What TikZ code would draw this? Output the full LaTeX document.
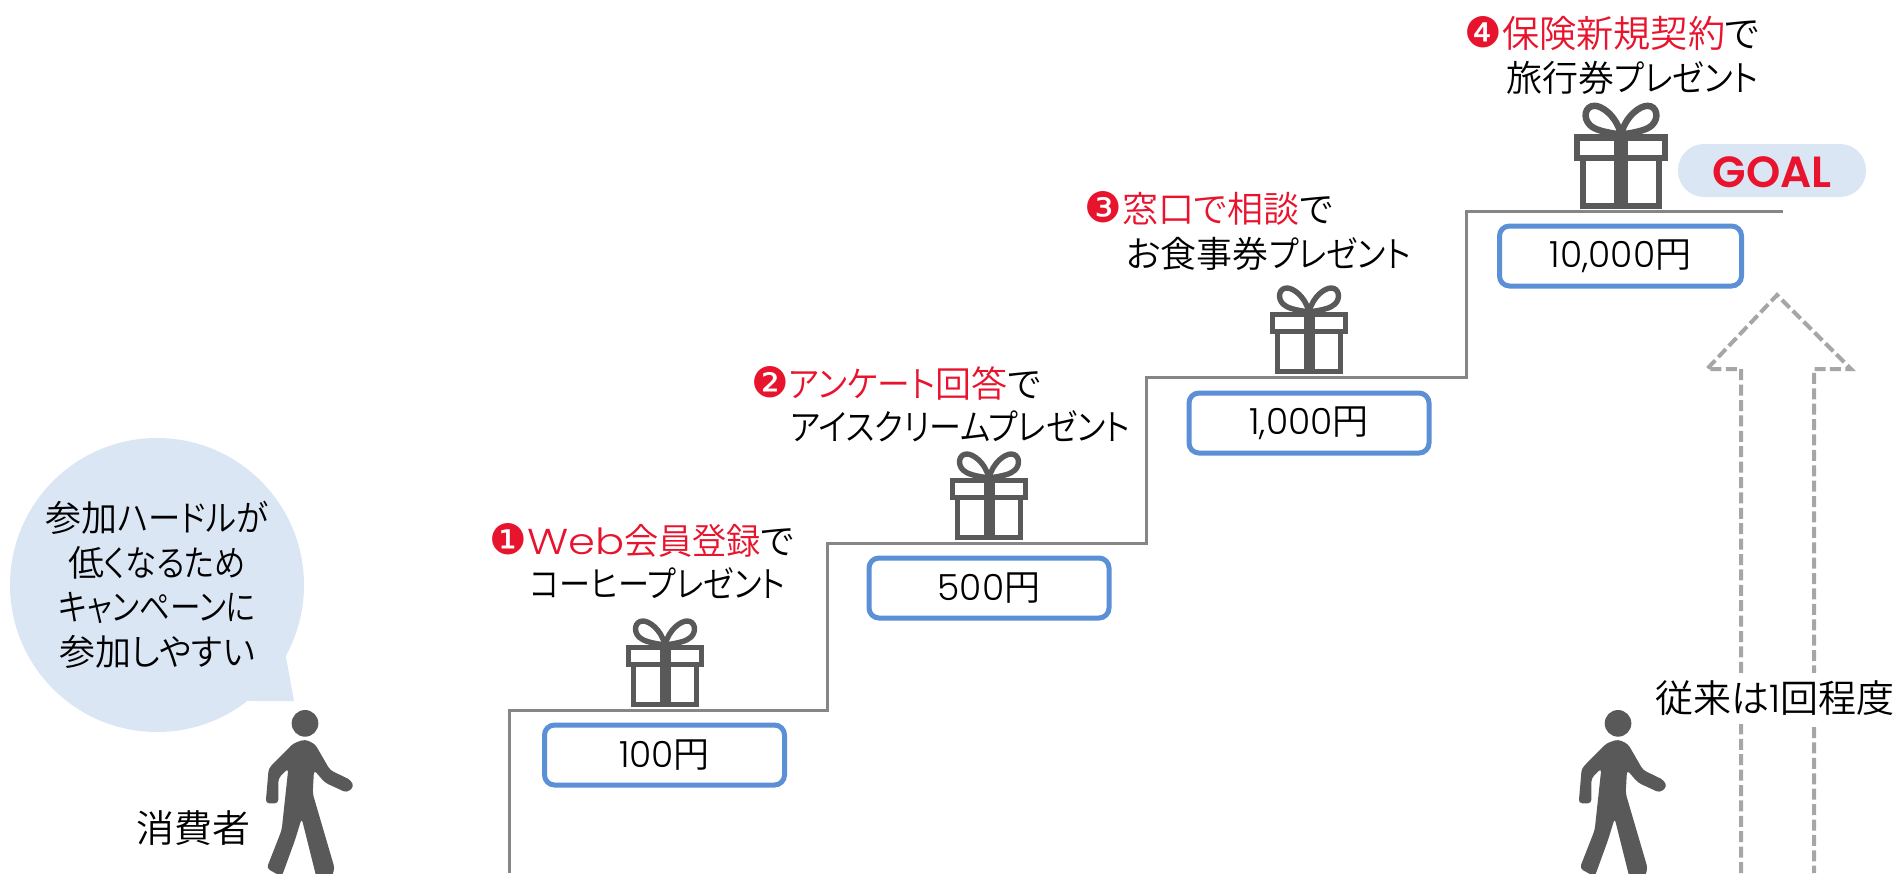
\documentclass[tikz,border=0pt]{standalone}
\usepackage{fontspec}
\setmainfont{Noto Sans CJK JP}[UprightFont=* DemiLight,RawFeature=+palt]
\newfontfamily\latf{Poppins Light}
\newfontfamily\goalf{Poppins SemiBold}
\newfontfamily\numf{DejaVu Sans}
\definecolor{tred}{HTML}{E8132D}
\definecolor{boxblue}{HTML}{5B8FD6}
\definecolor{pale}{HTML}{DBE6F5}
\definecolor{dark}{HTML}{595959}
\newcommand{\giftshape}[4]{%
  \begin{scope}[shift={(#2,#3)},scale=#4]
    \draw[dark,line width=#4*2.7pt] (-36.5,-59.5) rectangle (36.5,-42.5);
    \draw[dark,line width=#4*2.7pt] (-31.5,-42.5) rectangle (31.5,-2.5);
    \fill[dark] (-5.5,-62) rectangle (5.5,0);
    \draw[dark,line width=#4*2.7pt] (0,-62) .. controls (-4,-78) and (-16,-86) .. (-22,-86) .. controls (-30,-86) and (-32,-76) .. (-26,-70) .. controls (-22,-66) and (-14,-64) .. (0,-62);
    \draw[dark,line width=#4*2.7pt] (0,-62) .. controls (4,-78) and (16,-86) .. (22,-86) .. controls (30,-86) and (32,-76) .. (26,-70) .. controls (22,-66) and (14,-64) .. (0,-62);
  \end{scope}}
\newcommand{\personshape}[1]{%
  \begin{scope}[shift={(#1,420)},x=0.16667pt,y=-0.16667pt]
    \fill[dark] (915,910) circle[radius=40];
    \fill[dark,rounded corners=1.8pt] (915,958) -- (945,972) -- (990,1050) -- (1052,1080) -- (1062,1100) -- (1040,1118) -- (975,1088) -- (942,1050) -- (938,1120) -- (1004,1345) -- (990,1385) -- (950,1375) -- (905,1195) -- (885,1260) -- (845,1370) -- (800,1345) -- (845,1230) -- (865,1045) -- (835,1075) -- (835,1150) -- (797,1150) -- (806,1045) -- (880,970) -- cycle;
  \end{scope}}
\tikzset{
  stair/.style={draw=gray!95,line width=1.5pt,line join=miter},
  prize/.style={draw=boxblue,line width=2.5pt,rounded corners=5pt,fill=white,inner sep=0pt,minimum width=120pt,minimum height=30pt,font=\fontsize{18}{22}\selectfont},
  lab/.style={anchor=west,inner sep=0pt,font=\fontsize{18}{22}\selectfont},
  txt/.style={inner sep=0pt,font=\fontsize{18}{22}\selectfont},
  dasharrow/.style={draw=black!35,line width=2pt,dash pattern=on 5.5pt off 2.2pt}
}
\newcommand{\rd}[1]{\textcolor{tred}{#1}}
\newcommand{\circnum}[1]{\textcolor{tred}{\numf\fontsize{21}{22}\selectfont #1}}
\newcommand{\kn}[2][0.89]{\scalebox{#1}[1]{#2}}
\newcommand{\money}[2][-0.8pt]{\raisebox{#1}{#2}}
\begin{document}
\begin{tikzpicture}[x=0.5pt,y=-0.5pt]
\clip (0,0) rectangle (1898,873);
% staircase
\draw[stair] (509,873) -- (509,710) -- (827,710) -- (827,543) -- (1146,543) -- (1146,377) -- (1466,377) -- (1466,211) -- (1783,211);
% prize boxes
\node[prize] (p1) at (664.5,755) {\money{{\latf 100}円}};
\node[prize] (p2) at (989,588) {\money{{\latf 500}円}};
\node[prize] (p3) at (1309,423) {\money[-2pt]{{\latf 1,000}円}};
\node[prize,minimum width=121pt] (p4) at (1620.5,256) {\money[-2pt]{{\latf 10,000}円}};
% gifts
\giftshape{g1}{665}{707}{1}
\giftshape{g2}{989}{540}{1}
\giftshape{g3}{1309}{374}{1}
\giftshape{g4}{1621}{209}{1.2}
% labels
\node[lab] (l1a) at (489,540) {\circnum{❶}\rd{\kn[1.2]{\latf Web}\kn[0.95]{会員登録}}で};
\node[lab] (l1b) at (530,583) {\kn[0.865]{コーヒープレゼント}};
\node[lab] (l2a) at (751,383) {\circnum{❷}\rd{\kn[0.91]{アンケート}回答}で};
\node[lab] (l2b) at (790,426) {\kn{アイスクリームプレゼント}};
\node[lab] (l3a) at (1084,208) {\circnum{❸}\rd{窓口で相談}で};
\node[lab] (l3b) at (1126,254) {お食事券\kn{プレゼント}};
\node[lab,font=\fontsize{18.6}{22}\selectfont] (l4a) at (1464,33) {\circnum{❹}\rd{保険新規契約}で};
\node[lab] (l4b) at (1506,78) {旅行券\kn[0.9]{プレゼント}};
% goal
\node[fill=pale,rounded corners=13pt,minimum width=94pt,minimum height=26.5pt,inner sep=0pt] (goal) at (1772,170.5) {};
\node[inner sep=0pt,text=tred,font=\goalf\fontsize{21.8}{24}\selectfont] (goalt) at (1772,172) {GOAL};
% speech bubble
\fill[pale] (157,585) circle[radius=73.5pt];
\fill[pale] (286,657) -- (294,701) -- (250,701) -- (200,690) -- (240,620) -- cycle;
\node[txt] (b1) at (157,518) {参加\kn[0.9]{ハードルが}};
\node[txt] (b2) at (157,563) {低\kn[0.87]{くなるため}};
\node[txt] (b3) at (157,608) {\kn[0.85]{キャンペーンに}};
\node[txt] (b4) at (157,652) {参加\kn[0.95]{しやすい}};
\node[txt,font=\fontsize{19}{22}\selectfont] (cons) at (193,828) {消費者};
% persons
\personshape{0}
\personshape{1313}
% dashed arrow
\draw[dasharrow] (1741,873) -- (1741,369) -- (1707,369) -- (1777,295) -- (1851,369) -- (1814,369) -- (1814,873);
\node[txt,fill=white,inner ysep=4pt,font=\fontsize{19}{22}\selectfont] (trad) at (1775,698) {従来は{\latf 1}回程度};
\end{tikzpicture}
\end{document}
